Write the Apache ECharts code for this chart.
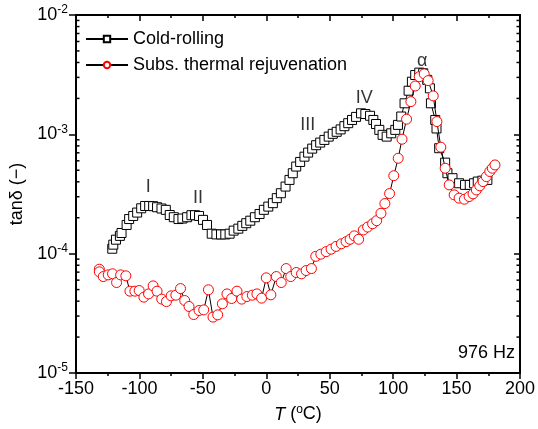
<!DOCTYPE html>
<html>
<head>
<meta charset="utf-8">
<script src="https://cdn.jsdelivr.net/npm/echarts@6/dist/echarts.min.js"></script>
<style>
html, body { margin: 0; padding: 0; background: #fff; }
#chart { width: 538px; height: 429px; }
</style>
</head>
<body>
<div id="chart"></div>
<script>
var FONT = '"Liberation Sans", Arial, sans-serif';

// Cold-rolling (T in °C, tan delta)
var coldT = [-121.4, -120.6, -118.5, -115.4, -114.1, -110.1, -108.1, -104.9, -101.8, -98.6,
  -95.5, -92.3, -89.2, -86.1, -82.6, -79.2, -76.1, -72.9, -69.2, -66.1,
  -62.4, -59.0, -56.2, -53.0, -49.9, -46.7, -43.0, -39.3, -35.7, -32.3,
  -28.9, -25.7, -22.0, -18.9, -15.8, -12.6, -9.0, -5.3, -1.9, 1.6,
  5.2, 8.3, 11.5, 15.2, 18.3, 20.9, 23.6, 26.7, 30.1, 33.0,
  36.2, 39.3, 42.5, 45.8, 49.2, 52.4, 55.5, 58.6, 61.6, 64.6,
  67.6, 70.8, 74.7, 78.1, 81.8, 84.4, 86.5, 89.1, 91.7, 94.9,
  98.5, 101.7, 103.8, 106.4, 109.0, 112.2, 114.8, 117.4, 120.6, 123.7,
  126.9, 129.0, 129.8, 133.2, 134.2, 136.3, 141.0, 142.8, 146.8, 152.0,
  156.7, 160.4, 163.8, 166.7, 170.4, 174.3];
var coldV = [1.10e-4, 1.19e-4, 1.31e-4, 1.41e-4, 1.49e-4, 1.74e-4, 1.95e-4, 2.07e-4, 2.21e-4, 2.40e-4,
  2.51e-4, 2.51e-4, 2.50e-4, 2.45e-4, 2.39e-4, 2.33e-4, 2.11e-4, 2.02e-4, 1.95e-4, 1.97e-4,
  2.02e-4, 2.10e-4, 2.10e-4, 2.07e-4, 1.92e-4, 1.74e-4, 1.47e-4, 1.45e-4, 1.45e-4, 1.45e-4,
  1.47e-4, 1.56e-4, 1.62e-4, 1.71e-4, 1.80e-4, 1.89e-4, 2.02e-4, 2.15e-4, 2.33e-4, 2.48e-4,
  2.65e-4, 2.92e-4, 3.21e-4, 3.65e-4, 4.15e-4, 4.72e-4, 5.37e-4, 5.87e-4, 6.50e-4, 7.03e-4,
  7.59e-4, 8.11e-4, 8.53e-4, 8.98e-4, 9.57e-4, 1.01e-3, 1.05e-3, 1.10e-3, 1.17e-3, 1.24e-3,
  1.32e-3, 1.40e-3, 1.50e-3, 1.48e-3, 1.43e-3, 1.32e-3, 1.22e-3, 1.09e-3, 9.9e-4, 9.57e-4,
  1.02e-3, 1.09e-3, 1.20e-3, 1.41e-3, 1.82e-3, 2.32e-3, 2.76e-3, 3.14e-3, 3.29e-3, 3.25e-3,
  2.86e-3, 2.43e-3, 1.82e-3, 1.32e-3, 1.12e-3, 7.65e-4, 5.79e-4, 4.72e-4, 4.29e-4, 3.89e-4,
  3.77e-4, 3.77e-4, 3.89e-4, 4.02e-4, 4.09e-4, 4.15e-4];

// Subsequent thermal rejuvenation
var rejT = [-131.6, -131.6, -128.5, -124.6, -121.2, -118.0, -114.8, -110.7, -107.5, -103.6,
  -100.2, -96.5, -92.8, -89.2, -86.1, -82.4, -78.7, -75.0, -71.3, -67.6,
  -64.3, -60.9, -57.2, -53.0, -49.3, -45.6, -42.0, -38.3, -34.6, -31.0,
  -27.3, -23.1, -19.4, -15.3, -11.0, -7.4, -3.7, 0.0, 3.6, 7.9,
  11.8, 15.7, 19.3, 23.6, 27.8, 31.4, 35.6, 39.0, 43.0, 47.2,
  51.1, 55.0, 59.2, 62.9, 66.1, 69.4, 72.8, 76.5, 79.9, 83.8,
  87.0, 90.4, 93.5, 97.2, 100.5, 104.0, 107.0, 110.6, 114.0, 117.4,
  120.6, 124.5, 127.6, 131.6, 134.5, 137.6, 141.0, 144.2, 148.1, 152.0,
  156.2, 159.9, 163.0, 165.6, 168.3, 170.9, 173.5, 176.2, 178.2, 180.3];
var rejV = [7.41e-5, 7.04e-5, 6.43e-5, 6.64e-5, 6.78e-5, 5.73e-5, 6.64e-5, 6.52e-5, 4.85e-5, 4.85e-5,
  4.91e-5, 4.32e-5, 4.60e-5, 5.37e-5, 4.85e-5, 4.16e-5, 3.97e-5, 4.43e-5, 4.49e-5, 5.10e-5,
  4.05e-5, 3.61e-5, 3.09e-5, 3.34e-5, 3.38e-5, 4.98e-5, 2.94e-5, 3.07e-5, 3.80e-5, 4.60e-5,
  4.21e-5, 4.85e-5, 4.16e-5, 4.37e-5, 4.49e-5, 4.60e-5, 4.24e-5, 6.27e-5, 4.52e-5, 6.43e-5,
  5.73e-5, 7.50e-5, 6.43e-5, 6.95e-5, 6.78e-5, 7.22e-5, 7.50e-5, 9.5e-5, 9.9e-5, 1.04e-4,
  1.09e-4, 1.15e-4, 1.21e-4, 1.26e-4, 1.32e-4, 1.41e-4, 1.32e-4, 1.58e-4, 1.67e-4, 1.78e-4,
  1.89e-4, 2.18e-4, 2.63e-4, 3.19e-4, 4.5e-4, 6.30e-4, 9.10e-4, 1.34e-3, 1.88e-3, 2.54e-3,
  3.04e-3, 3.21e-3, 2.82e-3, 2.10e-3, 1.28e-3, 7.80e-4, 5.20e-4, 3.77e-4, 3.11e-4, 2.92e-4,
  2.86e-4, 3.01e-4, 3.17e-4, 3.42e-4, 3.70e-4, 4.02e-4, 4.42e-4, 4.88e-4, 5.20e-4, 5.54e-4];

// peak labels
var peakNames = ['I', 'II', 'III', 'IV', 'α'];
var peakT = [-93.1, -53.8, 32.7, 77.3, 123];
var peakV = [3.65e-4, 2.92e-4, 1.20e-3, 2.0e-3, 4.12e-3];

var seriesNames = ['Cold-rolling', 'Subs. thermal rejuvenation'];
var yMin = 1e-5, yMax = 1e-2;

function zip(a, b) {
  return a.map(function (v, i) { return [v, b[i]]; });
}

var myChart = echarts.init(document.getElementById('chart'));

var option = {
  backgroundColor: '#fff',
  animation: false,
  textStyle: { fontFamily: FONT },
  grid: { left: 76, right: 16, top: 15, bottom: 56 },
  legend: {
    orient: 'vertical',
    left: 80,
    top: 25,
    itemWidth: 42,
    itemHeight: 8,
    itemGap: 8,
    textStyle: { fontFamily: FONT, fontSize: 18, color: '#000' },
    data: seriesNames
  },
  xAxis: [{
    type: 'value', min: -150, max: 200, interval: 50,
    position: 'bottom',
    axisLine: { onZero: false, lineStyle: { color: '#000', width: 2 } },
    axisTick: { inside: false, length: 6, lineStyle: { color: '#000', width: 1.5 } },
    minorTick: { show: true, splitNumber: 2, length: 3, lineStyle: { color: '#000', width: 1.5 } },
    axisLabel: { fontSize: 18, color: '#000', fontFamily: FONT, margin: 7 },
    splitLine: { show: false },
    name: '{i|T} ({s|o}C)',
    nameLocation: 'middle',
    nameGap: 31,
    nameTextStyle: {
      fontSize: 18, color: '#000', fontFamily: FONT,
      rich: {
        i: { fontSize: 18, fontStyle: 'italic', fontFamily: FONT },
        s: { fontSize: 12, fontFamily: FONT, padding: [0, 0, 9, 0] }
      }
    }
  }, {
    type: 'value', min: -150, max: 200, interval: 50,
    position: 'top',
    axisLine: { onZero: false, lineStyle: { color: '#000', width: 2 } },
    axisTick: { inside: true, length: 6, lineStyle: { color: '#000', width: 1.5 } },
    minorTick: { show: true, splitNumber: 2, length: 3, lineStyle: { color: '#000', width: 1.5 } },
    axisLabel: { show: false },
    splitLine: { show: false }
  }],
  yAxis: [{
    type: 'log', logBase: 10, min: yMin, max: yMax,
    position: 'left',
    axisLine: { onZero: false, lineStyle: { color: '#000', width: 2 } },
    axisTick: { inside: false, length: 7, lineStyle: { color: '#000', width: 1.5 } },
    axisLabel: {
      fontSize: 18, color: '#000', fontFamily: FONT, margin: 8,
      formatter: function (v) {
        return '10{s|' + Math.round(Math.log10(v)) + '}';
      },
      rich: { s: { fontSize: 12, fontFamily: FONT, padding: [0, 0, 10, 0] } }
    },
    splitLine: { show: false },
    name: 'tanδ (−)',
    nameLocation: 'middle',
    nameGap: 46,
    nameTextStyle: { fontSize: 18, color: '#000', fontFamily: FONT }
  }, {
    type: 'log', logBase: 10, min: yMin, max: yMax,
    position: 'right',
    axisLine: { onZero: false, lineStyle: { color: '#000', width: 2 } },
    axisTick: { inside: true, length: 6, lineStyle: { color: '#000', width: 1.5 } },
    axisLabel: { show: false },
    splitLine: { show: false }
  }],
  series: [{
    name: seriesNames[0],
    type: 'line',
    data: zip(coldT, coldV),
    symbol: 'rect',
    symbolSize: 9,
    lineStyle: { color: '#000', width: 1 },
    itemStyle: { color: '#fff', borderColor: '#000', borderWidth: 1 },
    z: 3
  }, {
    name: seriesNames[1],
    type: 'line',
    data: zip(rejT, rejV),
    symbol: 'circle',
    symbolSize: 10,
    lineStyle: { color: '#000', width: 1 },
    itemStyle: { color: '#fff', borderColor: '#ff0000', borderWidth: 1 },
    z: 4
  }, {
    name: 'peaks',
    type: 'scatter',
    data: zip(peakT, peakV),
    symbolSize: 0,
    silent: true,
    label: {
      show: true, position: 'inside', color: '#000', fontSize: 18, fontFamily: FONT,
      formatter: function (p) { return peakNames[p.dataIndex]; }
    },
    z: 5
  }],
  graphic: [{
    type: 'text',
    right: 23,
    top: 344,
    style: { text: '976 Hz', fontSize: 18, fontFamily: FONT, fill: '#000' }
  }]
};

if (option && typeof option === "object") {
  myChart.setOption(option, true);
}

// log minor ticks (2..9 per decade) on left and right axes
var ticks = [];
var xl = myChart.convertToPixel({ xAxisIndex: 0 }, -150);
var xr = myChart.convertToPixel({ xAxisIndex: 0 }, 200);
for (var d = -5; d < -2; d++) {
  for (var k = 2; k <= 9; k++) {
    var y = myChart.convertToPixel({ yAxisIndex: 0 }, k * Math.pow(10, d));
    ticks.push({ type: 'line', silent: true, shape: { x1: xl, y1: y, x2: xl + 3.5, y2: y }, style: { stroke: '#000', lineWidth: 1.5 } });
    ticks.push({ type: 'line', silent: true, shape: { x1: xr, y1: y, x2: xr - 3.5, y2: y }, style: { stroke: '#000', lineWidth: 1.5 } });
  }
}
myChart.setOption({ graphic: option.graphic.concat(ticks) });
</script>
</body>
</html>
